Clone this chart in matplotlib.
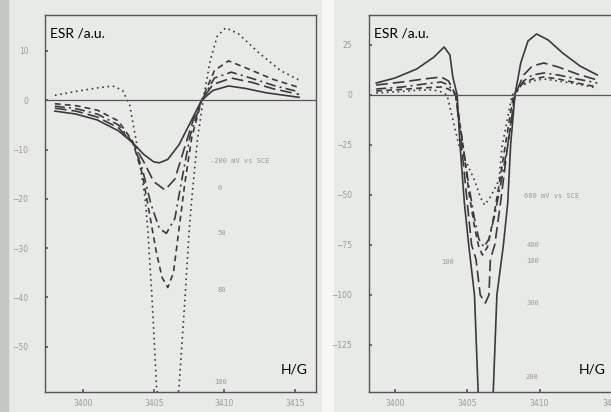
import matplotlib.pyplot as plt
from matplotlib.patches import Rectangle

# left panel: field (G) and ESR signal for each potential
left_solid_x = [3398.0, 3399.5, 3401.0, 3402.5, 3403.5, 3404.3, 3405.0, 3405.4, 3406.0, 3406.8, 3407.6, 3408.4, 3409.2, 3410.3, 3411.5, 3413.0, 3415.3]
left_solid_y = [-2.2, -2.8, -4.0, -6.2, -8.6, -11.0, -12.5, -12.7, -12.0, -9.0, -4.5, 0.0, 2.0, 2.9, 2.4, 1.5, 0.6]

left_ldash_x = [3398.0, 3399.5, 3401.0, 3402.5, 3403.5, 3404.3, 3405.0, 3405.8, 3406.5, 3407.2, 3407.8, 3408.4, 3409.2, 3410.5, 3412.0, 3413.5, 3415.3]
left_ldash_y = [-1.6, -2.2, -3.4, -5.6, -8.6, -12.5, -16.5, -18.2, -16.0, -9.5, -4.0, 0.0, 3.2, 4.5, 3.6, 2.3, 1.2]

left_dashdot_x = [3398.0, 3399.5, 3401.0, 3402.5, 3403.5, 3404.2, 3404.8, 3405.4, 3405.9, 3406.5, 3407.0, 3407.6, 3408.4, 3409.3, 3410.5, 3412.0, 3413.5, 3415.3]
left_dashdot_y = [-1.2, -1.7, -2.8, -5.0, -8.5, -14.0, -21.0, -26.0, -27.0, -24.0, -16.0, -7.0, 0.0, 4.5, 5.7, 4.4, 3.0, 1.7]

left_dash_x = [3398.0, 3399.5, 3401.0, 3402.5, 3403.5, 3404.2, 3404.7, 3405.2, 3405.6, 3406.0, 3406.4, 3406.8, 3407.2, 3407.7, 3408.4, 3409.3, 3410.3, 3411.5, 3413.5, 3415.3]
left_dash_y = [-0.7, -1.1, -2.0, -4.2, -8.3, -15.0, -23.0, -31.0, -36.0, -38.0, -35.0, -26.0, -17.0, -7.5, 0.0, 6.0, 8.0, 6.6, 4.2, 2.6]

left_dot_x = [3398.0, 3399.5, 3401.0, 3402.1, 3402.8, 3403.3, 3403.8, 3404.4, 3404.6, 3404.9, 3405.2, 3405.6, 3406.0, 3406.4, 3406.8, 3407.2, 3407.5, 3407.7, 3408.1, 3408.5, 3409.0, 3409.5, 3410.1, 3411.0, 3412.5, 3414.0, 3415.3]
left_dot_y = [1.0, 1.8, 2.5, 2.9, 2.0, -1.0, -8.8, -20.0, -27.0, -41.0, -58.0, -68.0, -72.0, -68.0, -58.0, -41.0, -27.0, -20.0, -8.0, 0.0, 8.0, 13.0, 14.7, 13.5, 9.5, 6.0, 4.1]

# right panel
right_solid_x = [3398.7, 3400.0, 3401.5, 3402.7, 3403.4, 3403.8, 3404.0, 3404.3, 3404.5, 3404.8, 3405.1, 3405.5, 3405.75, 3406.0, 3406.5, 3406.8, 3407.05, 3407.5, 3407.8, 3408.0, 3408.3, 3408.7, 3409.2, 3409.8, 3410.6, 3411.6, 3412.8, 3414.0]
right_solid_y = [6.0, 8.5, 13.0, 19.0, 24.0, 20.0, 9.0, 0.0, -25.0, -54.0, -75.0, -100.0, -148.0, -170.0, -170.0, -148.0, -100.0, -75.0, -54.0, -25.0, 0.0, 16.0, 27.0, 30.5, 27.5, 21.0, 14.5, 10.0]

right_ldash_x = [3398.7, 3400.5, 3402.0, 3403.2, 3403.7, 3404.2, 3404.6, 3405.0, 3405.3, 3405.6, 3405.9, 3406.25, 3406.5, 3406.6, 3406.9, 3407.3, 3407.8, 3408.3, 3408.9, 3409.5, 3410.3, 3411.3, 3412.6, 3414.0]
right_ldash_y = [5.0, 6.5, 8.0, 9.0, 7.0, 0.0, -25.0, -54.0, -75.0, -82.0, -100.0, -104.0, -100.0, -82.0, -75.0, -54.0, -25.0, 0.0, 10.0, 14.5, 16.0, 14.0, 10.5, 7.5]

right_dashdot_x = [3398.7, 3400.5, 3402.0, 3403.2, 3403.7, 3404.2, 3404.7, 3405.1, 3405.5, 3405.8, 3406.15, 3406.5, 3406.9, 3407.3, 3407.8, 3408.3, 3408.9, 3409.5, 3410.3, 3411.3, 3412.6, 3414.0]
right_dashdot_y = [3.0, 4.0, 5.5, 6.5, 5.0, 0.0, -25.0, -45.0, -62.0, -72.0, -76.0, -72.0, -60.0, -45.0, -25.0, 0.0, 7.0, 10.0, 11.0, 10.0, 8.0, 6.0]

right_dash_x = [3398.7, 3400.5, 3402.0, 3403.2, 3403.7, 3404.2, 3404.7, 3405.1, 3405.5, 3405.8, 3406.05, 3406.4, 3406.8, 3407.2, 3407.7, 3408.2, 3408.8, 3409.5, 3410.3, 3411.3, 3412.6, 3414.0]
right_dash_y = [2.0, 2.8, 3.6, 4.0, 3.0, 0.0, -25.0, -48.0, -66.0, -76.0, -80.0, -76.0, -62.0, -45.0, -22.0, 0.0, 5.5, 8.0, 9.0, 8.0, 6.0, 4.0]

right_dot_x = [3398.7, 3400.5, 3401.8, 3402.6, 3403.2, 3403.6, 3404.45, 3405.5, 3405.9, 3406.2, 3406.6, 3407.2, 3407.4, 3408.1, 3408.7, 3409.5, 3410.3, 3411.3, 3412.6, 3414.0]
right_dot_y = [1.0, 1.8, 2.5, 2.6, 1.5, 0.0, -26.0, -42.5, -51.0, -55.0, -51.0, -42.5, -26.0, 0.0, 4.5, 7.0, 8.0, 7.0, 5.5, 3.5]

left_yticks = [10, 0, -10, -20, -30, -40, -50]
right_yticks = [25, 0, -25, -50, -75, -100, -125]
xticks = [3400, 3405, 3410, 3415]

left_labels = ["-200 mV vs SCE", "0", "50", "80", "100"]
right_labels = ["600 mV vs SCE", "400", "100", "300", "200"]

ink = "#3a3a3a"
faint = "#9a9a9a"
paper = "#e7eae6"

fig = plt.figure(figsize=(6.11, 4.12), dpi=100, facecolor=paper)
fig.add_artist(Rectangle((0, 0), 8 / 611, 1, transform=fig.transFigure, color="#c4c8c3", zorder=-1))
fig.add_artist(Rectangle((322 / 611, 0), 11 / 611, 1, transform=fig.transFigure, color="#f7f8f6", zorder=-1))

ax1 = fig.add_axes([45 / 611, 20 / 412, 271 / 611, 377 / 412])
ax2 = fig.add_axes([369 / 611, 20 / 412, 250 / 611, 377 / 412])

styles = ["-", (0, (7, 3)), (0, (6, 2.5, 1.2, 2.5)), (0, (3.5, 2.5)), (0, (1, 2.2))]

for ax, series, yl, yt in [
    (ax1, [(left_solid_x, left_solid_y), (left_ldash_x, left_ldash_y), (left_dashdot_x, left_dashdot_y),
           (left_dash_x, left_dash_y), (left_dot_x, left_dot_y)], (-59.2, 17.3), left_yticks),
    (ax2, [(right_solid_x, right_solid_y), (right_ldash_x, right_ldash_y), (right_dashdot_x, right_dashdot_y),
           (right_dash_x, right_dash_y), (right_dot_x, right_dot_y)], (-148.5, 40), right_yticks),
]:
    ax.set_facecolor(paper)
    for (x, y), ls in zip(series, styles):
        ax.plot(x, y, color=ink, lw=1.2, linestyle=ls)
    ax.axhline(0, color="#555555", lw=0.9)
    ax.set_ylim(*yl)
    ax.set_yticks(yt)
    ax.set_xticks(xticks)
    ax.set_xticklabels([str(t) for t in xticks])
    ax.tick_params(direction="in", length=2, width=1.2, color="#555555", labelcolor=faint, labelsize=5.5)
    ax.tick_params(axis="y", pad=12)
    ax.tick_params(axis="x", pad=5)
    for s in ax.spines.values():
        s.set_color("#555555")
        s.set_linewidth(1.0)
    ax.text(0.02, 0.95, "ESR /a.u.", transform=ax.transAxes, fontsize=10, family="Lato", color="black", va="center")

ax1.set_xlim(3397.3, 3416.5)
ax2.set_xlim(3398.2, 3415.5)
ax2.spines["right"].set_visible(False)
ax1.text(0.97, 0.06, "H/G", transform=ax1.transAxes, fontsize=10, family="Lato", ha="right", va="center")
ax2.text(237 / 250, 0.06, "H/G", transform=ax2.transAxes, fontsize=10, family="Lato", ha="right", va="center")

# potential labels, small grey print
lbl = dict(fontsize=5, color=faint, family="DejaVu Sans Mono", va="center")
ax1.text(3409.0, -12.3, left_labels[0], **lbl)
ax1.text(3409.5, -17.8, left_labels[1], **lbl)
ax1.text(3409.5, -27.0, left_labels[2], **lbl)
ax1.text(3409.5, -38.5, left_labels[3], **lbl)
ax1.text(3409.3, -57.2, left_labels[4], **lbl)

ax2.text(3408.9, -50.5, right_labels[0], **lbl)
ax2.text(3409.1, -75.0, right_labels[1], **lbl)
ax2.text(3409.1, -83.0, right_labels[2], **lbl)
ax2.text(3409.1, -104.0, right_labels[3], **lbl)
ax2.text(3409.0, -141.0, right_labels[4], **lbl)
ax2.text(3403.6, -83.5, "100", ha="center", **lbl)

plt.savefig("out.png", dpi=100, facecolor=paper)
